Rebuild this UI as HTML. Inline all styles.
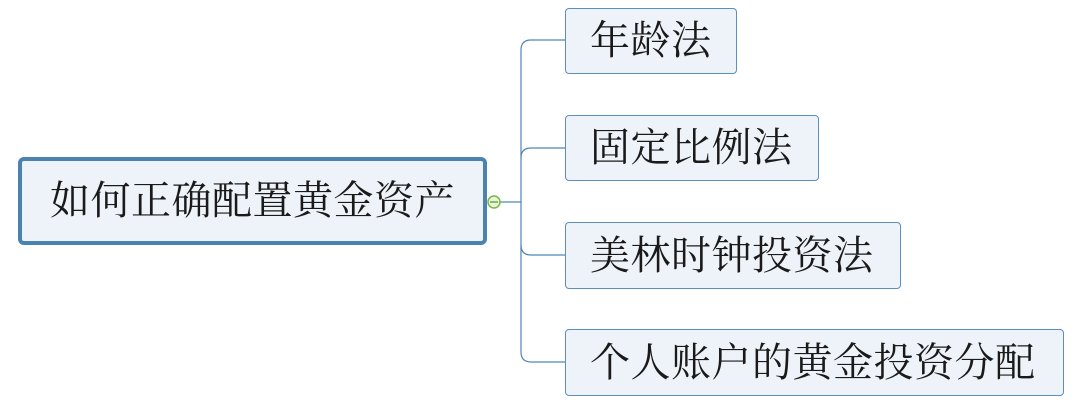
<!DOCTYPE html>
<html><head><meta charset="utf-8"><style>
body{margin:0;width:1091px;height:403px;background:#fff;position:relative;overflow:hidden;font-family:"Liberation Serif","Noto Serif CJK SC","WenQuanYi Zen Hei",serif;color:#1a1a1a}
.b{position:absolute;box-sizing:border-box;background:#eef3fa;border:1px solid #5b8fbd;border-radius:4px;font-size:40px;line-height:1;display:flex;align-items:center;padding-left:24px;white-space:nowrap;letter-spacing:0.5px}
</style></head><body>
<svg width="1091" height="403" style="position:absolute;left:0;top:0">
<g fill="none" stroke="#4f86b5" stroke-width="1.2">
<path d="M500 202H521"/>
<path d="M565 40H531Q521 40 521 50V352Q521 362 531 362H565"/>
<path d="M565 148H531Q521 148 521 158"/>
<path d="M565 255H531Q521 255 521 245"/>
</g>
<circle cx="494" cy="202" r="6" fill="#e8f5d8" stroke="#7ab648" stroke-width="1.5"/>
<path d="M490 202H498" stroke="#5a9a30" stroke-width="1.3"/>
</svg>
<div class="b" style="left:18px;top:157px;width:469px;height:88px;border:4px solid #4a82b0;border-radius:6px;padding-left:28px">如何正确配置黄金资产</div>
<div class="b" style="left:565px;top:8px;width:172px;height:66px">年龄法</div>
<div class="b" style="left:565px;top:115px;width:254px;height:66px">固定比例法</div>
<div class="b" style="left:565px;top:222px;width:336px;height:67px">美林时钟投资法</div>
<div class="b" style="left:565px;top:329px;width:499px;height:67px">个人账户的黄金投资分配</div>
</body></html>
